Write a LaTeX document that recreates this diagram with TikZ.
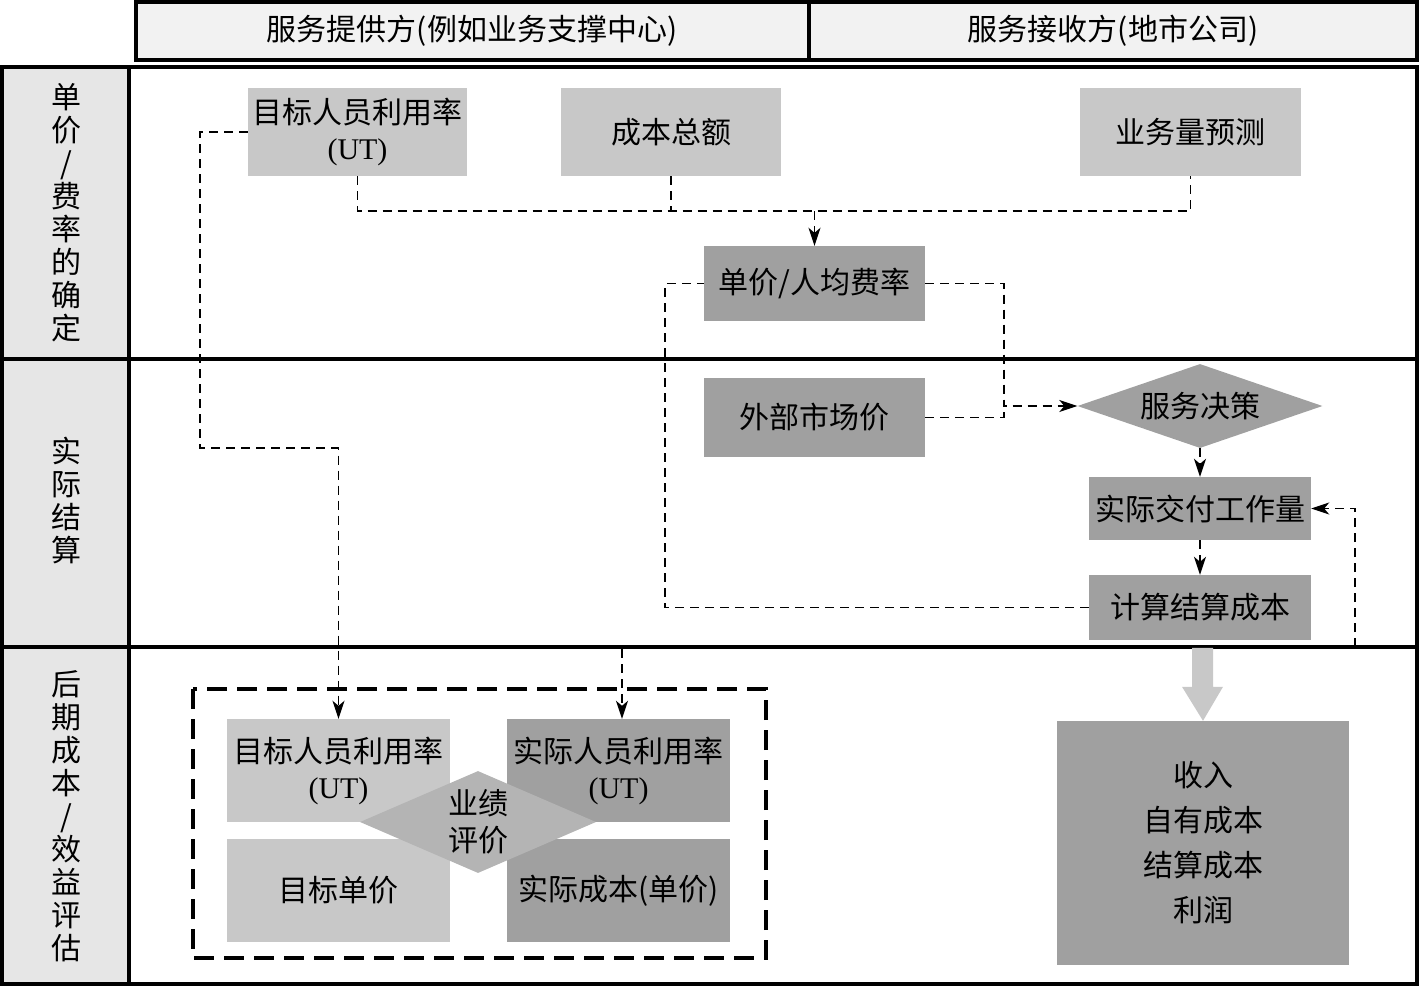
\documentclass[tikz,border=0pt]{standalone}
\usepackage{fontspec}
\setmainfont{Liberation Serif}
\newfontfamily\cjk{Noto Sans CJK SC}
\usetikzlibrary{arrows.meta,shapes.geometric}
\definecolor{boxlight}{HTML}{C8C8C8}
\definecolor{boxdark}{HTML}{A0A0A0}
\definecolor{perfgray}{HTML}{B4B4B4}
\definecolor{headgray}{HTML}{F2F2F2}
\definecolor{lanegray}{HTML}{E6E6E6}
\begin{document}
\begin{tikzpicture}[x=1pt,y=-1pt,
  font=\cjk\fontsize{30}{36}\selectfont,
  >={Stealth[length=18pt,width=12pt,inset=5pt]},
  lightbox/.style={fill=boxlight,inner sep=0pt,align=center,minimum width=220pt,minimum height=88pt},
  darkbox/.style={fill=boxdark,inner sep=0pt,align=center,minimum width=221pt,minimum height=75pt},
  choice/.style={diamond,fill=boxdark,inner sep=0pt,aspect=2.9,minimum width=245pt,minimum height=84pt},
  conn/.style={line width=1.8pt,dash pattern=on 9pt off 6pt},
  lane/.style={line width=3.5pt},
  lanetext/.style={align=center,font=\cjk\fontsize{30}{33}\selectfont}]
  \useasboundingbox (0,0) rectangle (1419,986);
  % 表头
  \filldraw[lane,fill=headgray] (136,2) rectangle (1417,60);
  \draw[lane] (809,2) -- (809,60);
  \node (provider) at (472,31) {服务提供方(例如业务支撑中心)};
  \node (receiver) at (1113,31) {服务接收方(地市公司)};
  % 泳道
  \filldraw[lane,fill=lanegray] (2,67) rectangle (129,984);
  \draw[lane] (129,67) rectangle (1417,984);
  \draw[lane] (2,359) -- (1417,359);
  \draw[lane] (2,647) -- (1417,647);
  \node[lanetext] (lane1) at (66,213) {单\\价\\/\\费\\率\\的\\确\\定};
  \node[lanetext] (lane2) at (66,500) {实\\际\\结\\算};
  \node[lanetext] (lane3) at (66,816) {后\\期\\成\\本\\/\\效\\益\\评\\估};
  % 单价/费率的确定
  \node[lightbox,minimum width=219pt] (tgtut) at (357.5,132) {目标人员利用率\\{\rmfamily (UT)}};
  \node[lightbox] (cost) at (671,132) {成本总额};
  \node[lightbox,minimum width=221pt] (volume) at (1190.5,132) {业务量预测};
  \node[darkbox] (rate) at (814.5,283.5) {单价/人均费率};
  % 实际结算
  \node[darkbox,minimum height=79pt] (market) at (814.5,417.5) {外部市场价};
  \node[choice] (decide) at (1200,406) {服务决策};
  \node[darkbox,minimum width=222pt,minimum height=63pt] (work) at (1200,508.5) {实际交付工作量};
  \node[darkbox,minimum width=222pt,minimum height=65pt] (settle) at (1200,607.5) {计算结算成本};
  % 后期成本/效益评估
  \draw[line width=4pt,dash pattern=on 20pt off 10pt] (193,689) rectangle (766,958);
  \node[lightbox,minimum width=223pt,minimum height=103pt] (btgtut) at (338.5,770.5) {目标人员利用率\\{\rmfamily (UT)}};
  \node[darkbox,minimum width=223pt,minimum height=103pt] (bactut) at (618.5,770.5) {实际人员利用率\\{\rmfamily (UT)}};
  \node[lightbox,minimum width=223pt,minimum height=103pt] (btgtprice) at (338.5,890.5) {目标单价};
  \node[darkbox,minimum width=223pt,minimum height=103pt] (bactcost) at (618.5,890.5) {实际成本(单价)};
  \node[choice,fill=perfgray,aspect=2.3,minimum width=236pt,minimum height=102pt,align=center,
    font=\cjk\fontsize{30}{37}\selectfont] (perf) at (478,822) {业绩\\评价};
  \node[darkbox,minimum width=292pt,minimum height=244pt,font=\cjk\fontsize{30}{45}\selectfont] (result) at (1203,843) {收入\\自有成本\\结算成本\\利润};
  % 连线
  \coordinate (merge) at (814.5,211);
  \coordinate (jn) at (1004,406);
  \coordinate (fb) at (1355,647);
  \coordinate (fromtop) at (622,649);
  \draw[conn,->] (tgtut.west) -| (200,448) -| (btgtut.north);
  \draw[conn] (tgtut.south) |- (merge) -| (volume.south);
  \draw[conn] (cost.south) -- (cost.south |- merge);
  \draw[conn,->] (merge) -- (rate.north);
  \draw[conn] (settle.west) -| ([xshift=-39pt]rate.west) -- (rate.west);
  \draw[conn,->] (rate.east) -| (jn) -- (decide.west);
  \draw[conn] (market.east) -| (jn);
  \draw[conn,->] (decide.south) -- (work.north);
  \draw[conn,->] (work.south) -- (settle.north);
  \draw[conn,->] (fb) |- (work.east);
  \draw[conn,->] (fromtop) -- (fromtop |- bactut.north);
  % 粗箭头
  \fill[boxlight] (result.north) -- ++(-21,-34) -- ++(10,0) -- ++(0,-39) -- ++(21,0) -- ++(0,39) -- ++(10,0) -- cycle;
\end{tikzpicture}
\end{document}
